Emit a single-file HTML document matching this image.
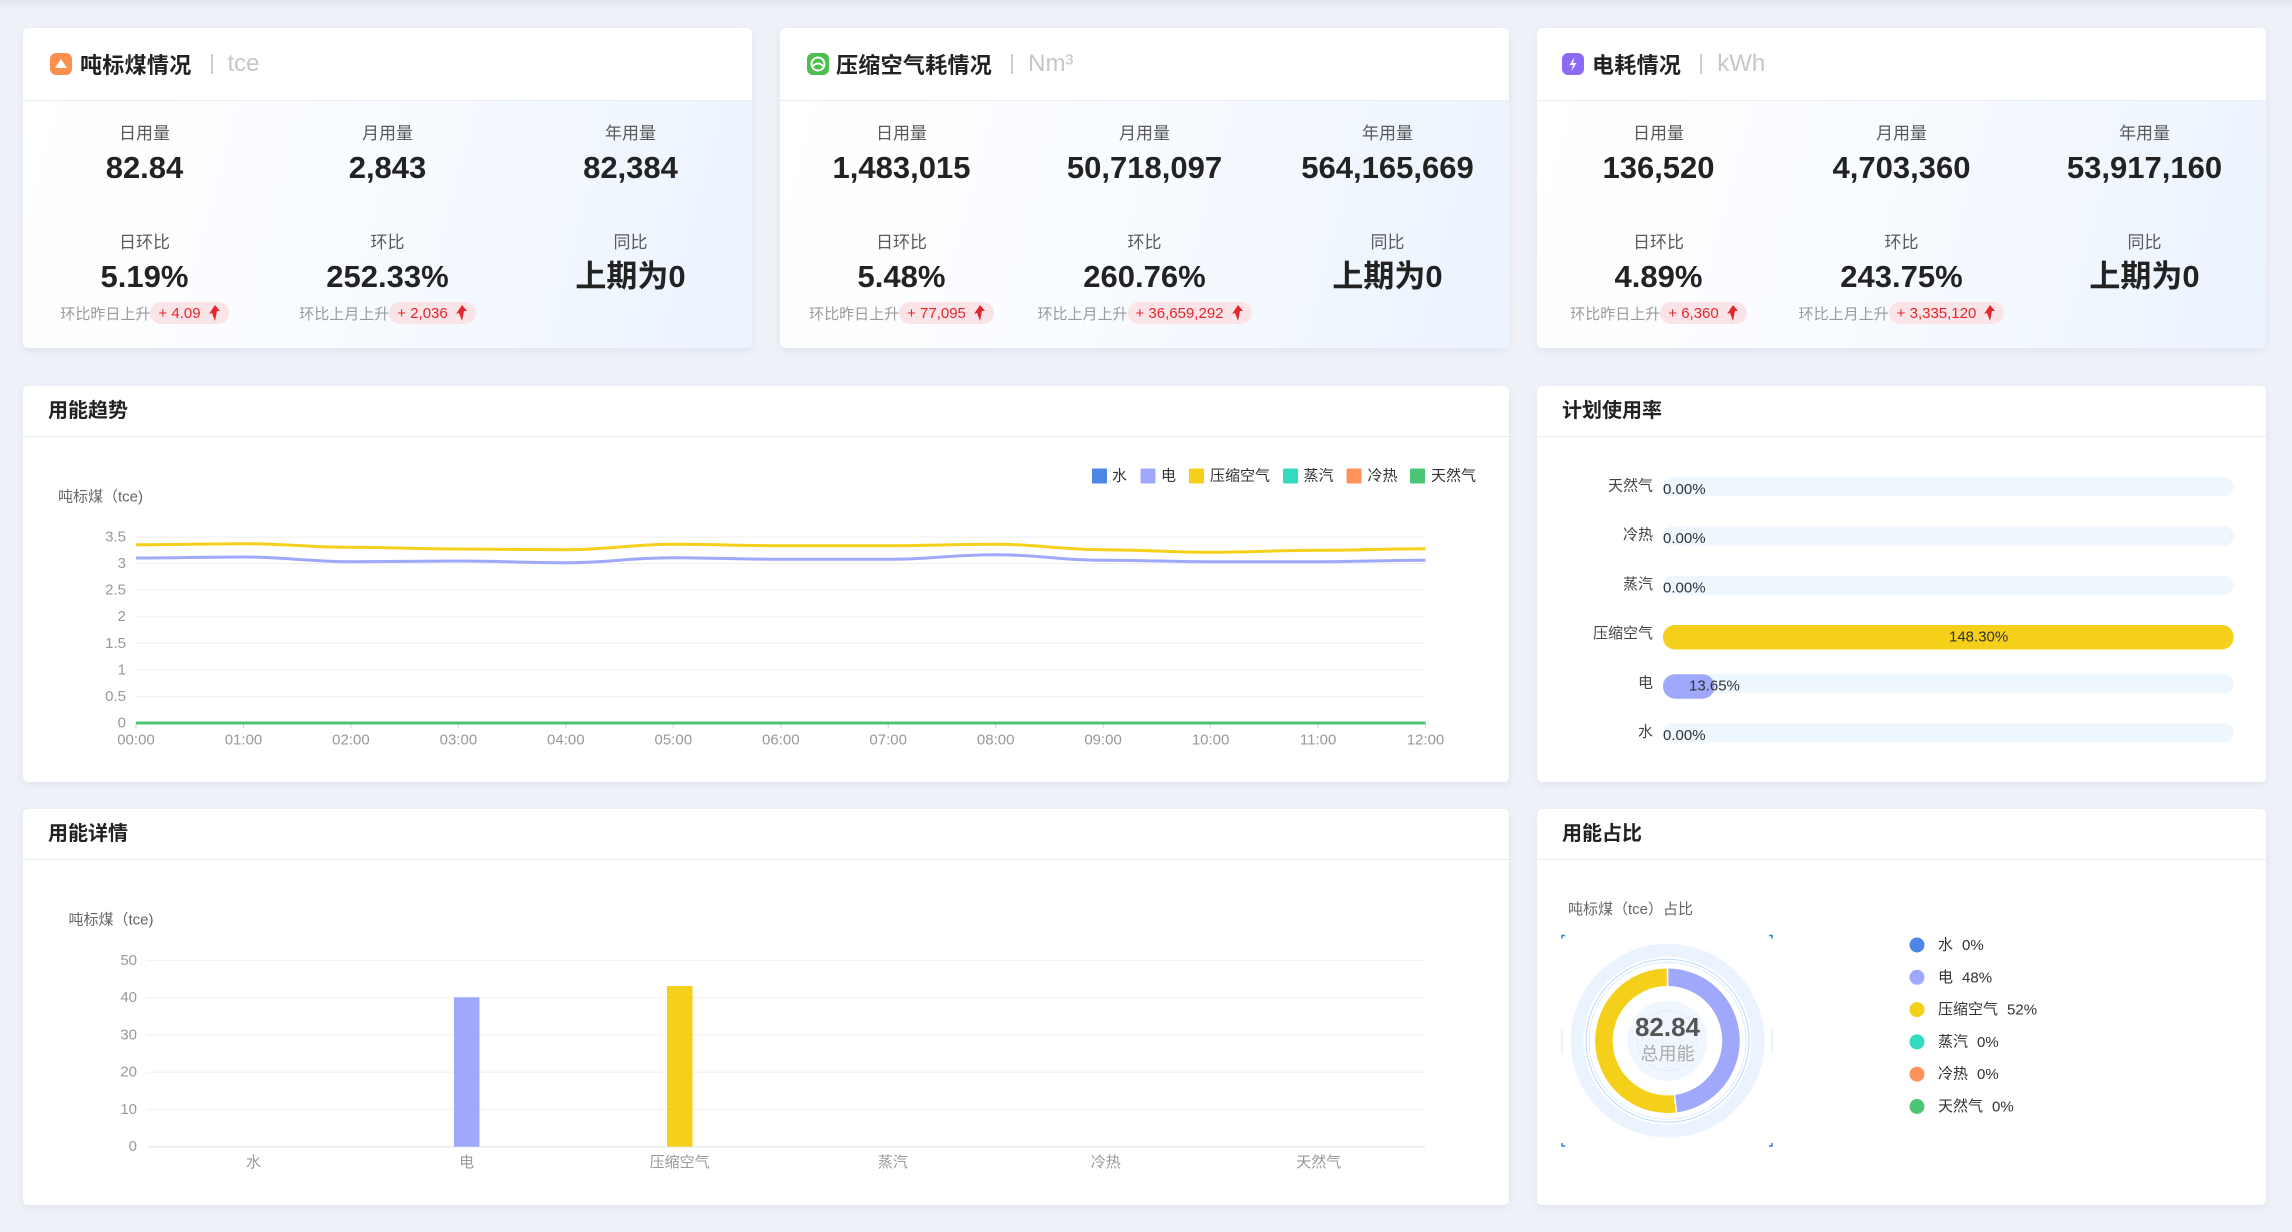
<!DOCTYPE html>
<html>
<head>
<meta charset="utf-8">
<style>
*{margin:0;padding:0;box-sizing:border-box;}
html,body{width:2292px;height:1232px;overflow:hidden;}
body{background:#eef1f8;font-family:"Liberation Sans","Noto Sans CJK SC",sans-serif;position:relative;}
.topshade{position:absolute;left:0;top:0;width:2292px;height:8px;background:linear-gradient(#e2e5ec,#eef1f8);}
.card{position:absolute;background:#fff;border-radius:5px;box-shadow:0 3px 8px rgba(40,60,110,0.07);overflow:hidden;}
.hdr{position:absolute;left:0;top:0;right:0;border-bottom:1px solid #e9ecf3;display:flex;align-items:center;}
.body{position:absolute;left:0;right:0;bottom:0;background:linear-gradient(105deg,#ffffff 0%,#f8fbff 45%,#ebf3fe 100%);}
.icon{width:22px;height:22px;border-radius:6px;margin-left:27px;position:relative;flex:none;}
.ttl{font-size:22px;font-weight:bold;color:#222;margin-left:8px;letter-spacing:0.3px;font-family:"Liberation Sans","Noto Sans CJK SC",sans-serif;}
.sep{width:2px;height:20px;background:#cfcfcf;margin-left:19px;}
.unit{font-size:24px;color:#c6c6c6;margin-left:15px;}
.stat{position:absolute;width:243px;text-align:center;}
.lab{font-size:17px;color:#5a5a5a;line-height:24px;}
.val{font-size:31px;font-weight:bold;color:#222;line-height:36px;}
.sub{position:absolute;width:243px;display:flex;justify-content:center;align-items:center;height:22px;}
.sub .t{font-size:15px;color:#9a9a9a;white-space:nowrap;}
.pill{display:inline-flex;align-items:center;height:22px;border-radius:11px;background:#fbe4e7;color:#e2262d;font-size:15px;padding:0 9px 0 8px;white-space:nowrap;}
.pill svg{margin-left:8px;}
.stitle{position:absolute;left:25px;top:0;height:50px;line-height:50px;font-size:20px;font-weight:bold;color:#222;}
.sline{position:absolute;left:0;right:0;top:50px;height:1px;background:#e9ecf3;}
svg.ov{position:absolute;left:0;top:0;}
</style>
</head>
<body>
<div class="topshade"></div>

<!-- ===== Card 1 ===== -->
<div class="card" style="left:23px;top:28px;width:729px;height:320px;">
  <div class="body" style="top:73px;"></div>
  <div class="hdr" style="height:73px;">
    <div class="icon" style="background:#fd8f4f;">
      <svg width="22" height="22" viewBox="0 0 22 22"><path d="M5 15 L11 6 L17 15 Z" fill="#fff"/></svg>
    </div>
    <div class="ttl">吨标煤情况</div><div class="sep"></div><div class="unit">tce</div>
  </div>
  <div class="stat" style="left:0;top:94px;"><div class="lab">日用量</div></div>
  <div class="stat" style="left:243px;top:94px;"><div class="lab">月用量</div></div>
  <div class="stat" style="left:486px;top:94px;"><div class="lab">年用量</div></div>
  <div class="stat" style="left:0;top:122px;"><div class="val">82.84</div></div>
  <div class="stat" style="left:243px;top:122px;"><div class="val">2,843</div></div>
  <div class="stat" style="left:486px;top:122px;"><div class="val">82,384</div></div>
  <div class="stat" style="left:0;top:203px;"><div class="lab">日环比</div></div>
  <div class="stat" style="left:243px;top:203px;"><div class="lab">环比</div></div>
  <div class="stat" style="left:486px;top:203px;"><div class="lab">同比</div></div>
  <div class="stat" style="left:0;top:231px;"><div class="val">5.19%</div></div>
  <div class="stat" style="left:243px;top:231px;"><div class="val">252.33%</div></div>
  <div class="stat" style="left:486px;top:231px;"><div class="val">上期为0</div></div>
  <div class="sub" style="left:0;top:274px;"><span class="t">环比昨日上升</span><span class="pill">+ 4.09<svg width="11" height="16" viewBox="0 0 11 16"><path d="M6 0 L11 6 L8 6 L6 16 L3 8 L0 9 Z" fill="#e2262d"/></svg></span></div>
  <div class="sub" style="left:243px;top:274px;"><span class="t">环比上月上升</span><span class="pill">+ 2,036<svg width="11" height="16" viewBox="0 0 11 16"><path d="M6 0 L11 6 L8 6 L6 16 L3 8 L0 9 Z" fill="#e2262d"/></svg></span></div>
</div>

<!-- ===== Card 2 ===== -->
<div class="card" style="left:780px;top:28px;width:729px;height:320px;">
  <div class="body" style="top:73px;"></div>
  <div class="hdr" style="height:73px;">
    <div class="icon" style="background:#4cbf4f;">
      <svg width="22" height="22" viewBox="0 0 22 22"><circle cx="11" cy="11" r="6.5" fill="none" stroke="#fff" stroke-width="2"/><path d="M6 13 Q11 8 16 13" fill="none" stroke="#fff" stroke-width="2"/></svg>
    </div>
    <div class="ttl" style="margin-left:7px;">压缩空气耗情况</div><div class="sep"></div><div class="unit">Nm³</div>
  </div>
  <div class="stat" style="left:0;top:94px;"><div class="lab">日用量</div></div>
  <div class="stat" style="left:243px;top:94px;"><div class="lab">月用量</div></div>
  <div class="stat" style="left:486px;top:94px;"><div class="lab">年用量</div></div>
  <div class="stat" style="left:0;top:122px;"><div class="val">1,483,015</div></div>
  <div class="stat" style="left:243px;top:122px;"><div class="val">50,718,097</div></div>
  <div class="stat" style="left:486px;top:122px;"><div class="val">564,165,669</div></div>
  <div class="stat" style="left:0;top:203px;"><div class="lab">日环比</div></div>
  <div class="stat" style="left:243px;top:203px;"><div class="lab">环比</div></div>
  <div class="stat" style="left:486px;top:203px;"><div class="lab">同比</div></div>
  <div class="stat" style="left:0;top:231px;"><div class="val">5.48%</div></div>
  <div class="stat" style="left:243px;top:231px;"><div class="val">260.76%</div></div>
  <div class="stat" style="left:486px;top:231px;"><div class="val">上期为0</div></div>
  <div class="sub" style="left:0;top:274px;"><span class="t">环比昨日上升</span><span class="pill">+ 77,095<svg width="11" height="16" viewBox="0 0 11 16"><path d="M6 0 L11 6 L8 6 L6 16 L3 8 L0 9 Z" fill="#e2262d"/></svg></span></div>
  <div class="sub" style="left:243px;top:274px;"><span class="t">环比上月上升</span><span class="pill">+ 36,659,292<svg width="11" height="16" viewBox="0 0 11 16"><path d="M6 0 L11 6 L8 6 L6 16 L3 8 L0 9 Z" fill="#e2262d"/></svg></span></div>
</div>

<!-- ===== Card 3 ===== -->
<div class="card" style="left:1537px;top:28px;width:729px;height:320px;">
  <div class="body" style="top:73px;"></div>
  <div class="hdr" style="height:73px;">
    <div class="icon" style="background:#8a6cf6;margin-left:25px;">
      <svg width="22" height="22" viewBox="0 0 22 22"><path d="M12.5 4 L7.5 12 L11 12 L9.5 18 L14.5 10 L11 10 Z" fill="#fff"/></svg>
    </div>
    <div class="ttl" style="margin-left:8px;">电耗情况</div><div class="sep"></div><div class="unit">kWh</div>
  </div>
  <div class="stat" style="left:0;top:94px;"><div class="lab">日用量</div></div>
  <div class="stat" style="left:243px;top:94px;"><div class="lab">月用量</div></div>
  <div class="stat" style="left:486px;top:94px;"><div class="lab">年用量</div></div>
  <div class="stat" style="left:0;top:122px;"><div class="val">136,520</div></div>
  <div class="stat" style="left:243px;top:122px;"><div class="val">4,703,360</div></div>
  <div class="stat" style="left:486px;top:122px;"><div class="val">53,917,160</div></div>
  <div class="stat" style="left:0;top:203px;"><div class="lab">日环比</div></div>
  <div class="stat" style="left:243px;top:203px;"><div class="lab">环比</div></div>
  <div class="stat" style="left:486px;top:203px;"><div class="lab">同比</div></div>
  <div class="stat" style="left:0;top:231px;"><div class="val">4.89%</div></div>
  <div class="stat" style="left:243px;top:231px;"><div class="val">243.75%</div></div>
  <div class="stat" style="left:486px;top:231px;"><div class="val">上期为0</div></div>
  <div class="sub" style="left:0;top:274px;"><span class="t">环比昨日上升</span><span class="pill">+ 6,360<svg width="11" height="16" viewBox="0 0 11 16"><path d="M6 0 L11 6 L8 6 L6 16 L3 8 L0 9 Z" fill="#e2262d"/></svg></span></div>
  <div class="sub" style="left:243px;top:274px;"><span class="t">环比上月上升</span><span class="pill">+ 3,335,120<svg width="11" height="16" viewBox="0 0 11 16"><path d="M6 0 L11 6 L8 6 L6 16 L3 8 L0 9 Z" fill="#e2262d"/></svg></span></div>
</div>

<!-- ===== Row 2 / Row 3 cards ===== -->
<div class="card" style="left:23px;top:386px;width:1486px;height:396px;">
  <div class="stitle">用能趋势</div><div class="sline"></div>
</div>
<div class="card" style="left:1537px;top:386px;width:729px;height:396px;">
  <div class="stitle">计划使用率</div><div class="sline"></div>
</div>
<div class="card" style="left:23px;top:809px;width:1486px;height:396px;">
  <div class="stitle">用能详情</div><div class="sline"></div>
</div>
<div class="card" style="left:1537px;top:809px;width:729px;height:396px;">
  <div class="stitle">用能占比</div><div class="sline"></div>
</div>

<svg class="ov" width="2292" height="1232" viewBox="0 0 2292 1232" font-family="Liberation Sans, Noto Sans CJK SC, sans-serif">
  <!-- ========== Line chart ========== -->
  <text x="58" y="497" font-size="15" fill="#666" dominant-baseline="central">吨标煤（tce)</text>
  <g stroke="#efefef" stroke-width="1">
    <line x1="136" y1="537" x2="1425.5" y2="537"/>
    <line x1="136" y1="563.6" x2="1425.5" y2="563.6"/>
    <line x1="136" y1="590.1" x2="1425.5" y2="590.1"/>
    <line x1="136" y1="616.7" x2="1425.5" y2="616.7"/>
    <line x1="136" y1="643.3" x2="1425.5" y2="643.3"/>
    <line x1="136" y1="669.9" x2="1425.5" y2="669.9"/>
    <line x1="136" y1="696.4" x2="1425.5" y2="696.4"/>
  </g>
  <line x1="136" y1="723" x2="1425.5" y2="723" stroke="#dfe3ea" stroke-width="1"/>
  <g stroke="#d0d4dc" stroke-width="1">
    <line x1="136" y1="723" x2="136" y2="728"/><line x1="243.5" y1="723" x2="243.5" y2="728"/>
    <line x1="350.9" y1="723" x2="350.9" y2="728"/><line x1="458.4" y1="723" x2="458.4" y2="728"/>
    <line x1="565.8" y1="723" x2="565.8" y2="728"/><line x1="673.3" y1="723" x2="673.3" y2="728"/>
    <line x1="780.8" y1="723" x2="780.8" y2="728"/><line x1="888.2" y1="723" x2="888.2" y2="728"/>
    <line x1="995.7" y1="723" x2="995.7" y2="728"/><line x1="1103.1" y1="723" x2="1103.1" y2="728"/>
    <line x1="1210.6" y1="723" x2="1210.6" y2="728"/><line x1="1318.1" y1="723" x2="1318.1" y2="728"/>
    <line x1="1425.5" y1="723" x2="1425.5" y2="728"/>
  </g>
  <g font-size="15" fill="#999" text-anchor="end" dominant-baseline="central">
    <text x="126" y="537">3.5</text><text x="126" y="563.6">3</text><text x="126" y="590.1">2.5</text>
    <text x="126" y="616.7">2</text><text x="126" y="643.3">1.5</text><text x="126" y="669.9">1</text>
    <text x="126" y="696.4">0.5</text><text x="126" y="723">0</text>
  </g>
  <g font-size="15" fill="#999" text-anchor="middle" dominant-baseline="central">
    <text x="136" y="740">00:00</text><text x="243.5" y="740">01:00</text><text x="350.9" y="740">02:00</text>
    <text x="458.4" y="740">03:00</text><text x="565.8" y="740">04:00</text><text x="673.3" y="740">05:00</text>
    <text x="780.8" y="740">06:00</text><text x="888.2" y="740">07:00</text><text x="995.7" y="740">08:00</text>
    <text x="1103.1" y="740">09:00</text><text x="1210.6" y="740">10:00</text><text x="1318.1" y="740">11:00</text>
    <text x="1425.5" y="740">12:00</text>
  </g>
  <path fill="none" stroke="#f4d01a" stroke-width="3" d="M136,544.7 C179,544.7 200.46,543.7 243.46,543.7 C286.46,543.7 307.92,547.3 350.92,547.3 C393.92,547.3 415.38,549 458.38,549 C501.38,549 522.84,549.7 565.84,549.7 C608.84,549.7 630.3,544.3 673.3,544.3 C716.3,544.3 737.76,545.7 780.76,545.7 C823.76,545.7 845.22,545.7 888.22,545.7 C931.22,545.7 952.68,544.3 995.68,544.3 C1038.68,544.3 1060.14,549.7 1103.14,549.7 C1146.14,549.7 1167.6,552.3 1210.6,552.3 C1253.6,552.3 1275.06,550.3 1318.06,550.3 C1361.06,550.3 1382.52,548.7 1425.52,548.7"/>
  <path fill="none" stroke="#a0a8fc" stroke-width="3" d="M136,558 C179,558 200.46,557 243.46,557 C286.46,557 307.92,561.7 350.92,561.7 C393.92,561.7 415.38,561 458.38,561 C501.38,561 522.84,562.7 565.84,562.7 C608.84,562.7 630.3,557.7 673.3,557.7 C716.3,557.7 737.76,559.3 780.76,559.3 C823.76,559.3 845.22,559.3 888.22,559.3 C931.22,559.3 952.68,554.7 995.68,554.7 C1038.68,554.7 1060.14,560.3 1103.14,560.3 C1146.14,560.3 1167.6,561.7 1210.6,561.7 C1253.6,561.7 1275.06,561.7 1318.06,561.7 C1361.06,561.7 1382.52,560.3 1425.52,560.3"/>
  <line x1="136" y1="723" x2="1425.5" y2="723" stroke="#4cc573" stroke-width="3"/>
  <!-- legend -->
  <g font-size="15" fill="#333" dominant-baseline="central">
    <rect x="1092" y="468.5" width="15" height="15" rx="1" fill="#4e86e8"/><text x="1112" y="476">水</text>
    <rect x="1140.5" y="468.5" width="15" height="15" rx="1" fill="#a0a8fc"/><text x="1161" y="476">电</text>
    <rect x="1189" y="468.5" width="15" height="15" rx="1" fill="#f4d01a"/><text x="1210" y="476">压缩空气</text>
    <rect x="1283" y="468.5" width="15" height="15" rx="1" fill="#34dbbf"/><text x="1303.5" y="476">蒸汽</text>
    <rect x="1346.5" y="468.5" width="15" height="15" rx="1" fill="#fe935a"/><text x="1367.5" y="476">冷热</text>
    <rect x="1410" y="468.5" width="15" height="15" rx="1" fill="#4dc574"/><text x="1431" y="476">天然气</text>
  </g>

  <!-- ========== Plan usage bars ========== -->
  <g fill="#eef6fe">
    <rect x="1663" y="477.3" width="570.6" height="19" rx="9.5"/>
    <rect x="1663" y="526.5" width="570.6" height="19" rx="9.5"/>
    <rect x="1663" y="575.7" width="570.6" height="19" rx="9.5"/>
    <rect x="1663" y="625" width="570.6" height="19" rx="9.5"/>
    <rect x="1663" y="674.2" width="570.6" height="19" rx="9.5"/>
    <rect x="1663" y="723.4" width="570.6" height="19" rx="9.5"/>
  </g>
  <rect x="1663" y="625" width="570.6" height="24.5" rx="12" fill="#f4d01a"/>
  <rect x="1663" y="674.2" width="51.6" height="24.5" rx="12" fill="#a0a8fc"/>
  <g font-size="15" fill="#444" text-anchor="end" dominant-baseline="central">
    <text x="1653" y="486">天然气</text><text x="1653" y="535.2">冷热</text><text x="1653" y="584.4">蒸汽</text>
    <text x="1653" y="633.7">压缩空气</text><text x="1653" y="682.9">电</text><text x="1653" y="732.1">水</text>
  </g>
  <g font-size="15" fill="#333" dominant-baseline="central">
    <text x="1663" y="489.5">0.00%</text><text x="1663" y="538.7">0.00%</text><text x="1663" y="587.9">0.00%</text>
    <text x="1949" y="637">148.30%</text><text x="1689" y="686.2">13.65%</text><text x="1663" y="735.6">0.00%</text>
  </g>

  <!-- ========== Bar chart ========== -->
  <text x="68.5" y="920" font-size="15" fill="#666" dominant-baseline="central">吨标煤（tce)</text>
  <g stroke="#efefef" stroke-width="1">
    <line x1="147" y1="960.3" x2="1425.5" y2="960.3"/>
    <line x1="147" y1="997.6" x2="1425.5" y2="997.6"/>
    <line x1="147" y1="1034.9" x2="1425.5" y2="1034.9"/>
    <line x1="147" y1="1072.1" x2="1425.5" y2="1072.1"/>
    <line x1="147" y1="1109.4" x2="1425.5" y2="1109.4"/>
  </g>
  <line x1="147" y1="1146.7" x2="1425.5" y2="1146.7" stroke="#e9ebf0" stroke-width="1.5"/>
  <g font-size="15" fill="#999" text-anchor="end" dominant-baseline="central">
    <text x="137" y="960.3">50</text><text x="137" y="997.6">40</text><text x="137" y="1034.9">30</text>
    <text x="137" y="1072.1">20</text><text x="137" y="1109.4">10</text><text x="137" y="1146.7">0</text>
  </g>
  <rect x="454" y="997.3" width="25.5" height="149.4" fill="#a0a8fc"/>
  <rect x="667" y="986" width="25.5" height="160.7" fill="#f4d01a"/>
  <g font-size="15" fill="#999" text-anchor="middle" dominant-baseline="central">
    <text x="253.5" y="1162.7">水</text><text x="466.6" y="1162.7">电</text><text x="679.6" y="1162.7">压缩空气</text>
    <text x="892.7" y="1162.7">蒸汽</text><text x="1105.7" y="1162.7">冷热</text><text x="1318.8" y="1162.7">天然气</text>
  </g>

  <!-- ========== Donut ========== -->
  <text x="1568" y="909.3" font-size="15" fill="#666" dominant-baseline="central">吨标煤（tce）占比</text>
  <circle cx="1667.5" cy="1040.7" r="90.5" fill="none" stroke="#ebf4fe" stroke-width="13"/>
  <circle cx="1667.5" cy="1040.7" r="81.5" fill="none" stroke="#b8d9fb" stroke-width="1"/>
  <circle cx="1667.5" cy="1040.7" r="78.5" fill="none" stroke="#dcebfc" stroke-width="1"/>
  <path d="M1667.5,967.7 A73,73 0 0 1 1676.65,1113.12 L1674.27,1094.27 A54,54 0 0 0 1667.5,986.7 Z" fill="#a0a8fc" stroke="#fff" stroke-width="1.5"/>
  <path d="M1676.65,1113.12 A73,73 0 1 1 1667.5,967.7 L1667.5,986.7 A54,54 0 1 0 1674.27,1094.27 Z" fill="#f4d01a" stroke="#fff" stroke-width="1.5"/>
  <circle cx="1667.5" cy="1040.7" r="40" fill="#eff6fe"/>
  <circle cx="1667.5" cy="1040.7" r="30" fill="none" stroke="#cde2f8" stroke-width="1" stroke-dasharray="1.5 2"/>
  <text x="1667.5" y="1027" font-size="26" font-weight="bold" fill="#555" text-anchor="middle" dominant-baseline="central">82.84</text>
  <text x="1667.5" y="1054" font-size="18" fill="#aaa" text-anchor="middle" dominant-baseline="central">总用能</text>
  <g fill="none" stroke="#1f80f2" stroke-width="1.5">
    <path d="M1562,938.5 V935.5 H1565"/><path d="M1769,935.5 H1772 V938.5"/>
    <path d="M1562,1143 V1146 H1565"/><path d="M1769,1146 H1772 V1143"/>
  </g>
  <g stroke="#d3e6fb" stroke-width="1">
    <line x1="1562" y1="1030" x2="1562" y2="1053"/><line x1="1772" y1="1030" x2="1772" y2="1053"/>
  </g>
  <g font-size="15" fill="#333" dominant-baseline="central">
    <circle cx="1917" cy="945" r="7.5" fill="#4e86e8"/><text x="1938" y="945">水<tspan dx="9">0%</tspan></text>
    <circle cx="1917" cy="977.3" r="7.5" fill="#a0a8fc"/><text x="1938" y="977.3">电<tspan dx="9">48%</tspan></text>
    <circle cx="1917" cy="1009.6" r="7.5" fill="#f4d01a"/><text x="1938" y="1009.6">压缩空气<tspan dx="9">52%</tspan></text>
    <circle cx="1917" cy="1041.9" r="7.5" fill="#34dbbf"/><text x="1938" y="1041.9">蒸汽<tspan dx="9">0%</tspan></text>
    <circle cx="1917" cy="1074.2" r="7.5" fill="#fe935a"/><text x="1938" y="1074.2">冷热<tspan dx="9">0%</tspan></text>
    <circle cx="1917" cy="1106.5" r="7.5" fill="#4dc574"/><text x="1938" y="1106.5">天然气<tspan dx="9">0%</tspan></text>
  </g>
</svg>
</body>
</html>
